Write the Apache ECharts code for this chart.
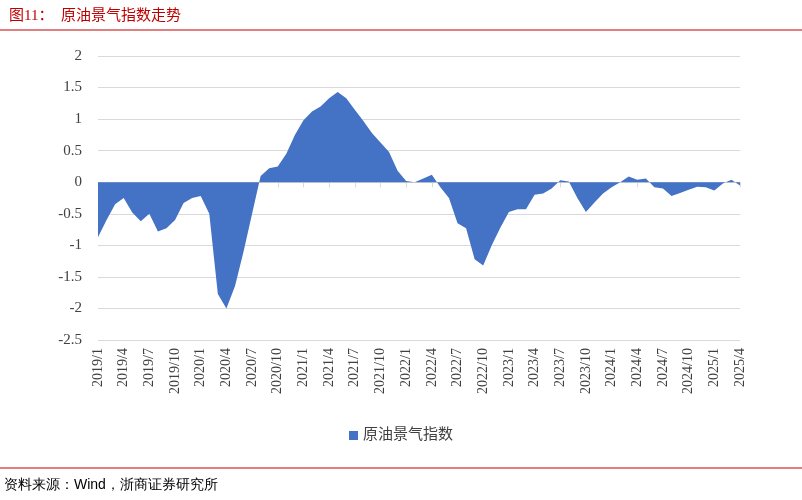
<!DOCTYPE html>
<html><head><meta charset="utf-8">
<script src="https://cdn.jsdelivr.net/npm/echarts@6/dist/echarts.min.js"></script>
<style>body{margin:0;background:#fff}#c{width:802px;height:500px}</style>
</head><body><div id="c"></div>
<script>
// 原油景气指数 2019/1 - 2025/4 月度
var years = [2019, 2020, 2021, 2022, 2023, 2024, 2025];
var values = [
	-0.87, -0.6, -0.35, -0.25, -0.48, -0.62, -0.5, -0.78, -0.73, -0.6, -0.33, -0.25,
	-0.22, -0.5, -1.77, -2.0, -1.65, -1.1, -0.5, 0.1, 0.22, 0.25, 0.45, 0.75,
	0.98, 1.12, 1.2, 1.33, 1.43, 1.33, 1.15, 0.97, 0.78, 0.63, 0.48, 0.18,
	0.02, 0.0, 0.06, 0.12, -0.08, -0.25, -0.65, -0.73, -1.22, -1.32, -1.0, -0.72,
	-0.47, -0.43, -0.43, -0.2, -0.18, -0.1, 0.03, 0.01, -0.25, -0.47, -0.32, -0.18,
	-0.08, 0.0, 0.09, 0.04, 0.06, -0.08, -0.1, -0.22, -0.17, -0.12, -0.07, -0.08,
	-0.13, -0.02, 0.04, -0.05
];
var categories = [];
for (var i = 0; i < values.length; i ++) {
	categories.push(years[Math.floor(i / 12)] + '/' + (i % 12 + 1));
}
var serif = '"Liberation Serif", "Noto Sans CJK SC", serif';
var chart = echarts.init(document.getElementById('c'));
chart.setOption({
	animation: false,
	title: {
		text: '图11：  原油景气指数走势',
		left: 4, top: 4,
		textStyle: {color: '#c00000', fontSize: 15, fontWeight: 'normal', fontFamily: serif}
	},
	graphic: [
		{type: 'line', shape: {x1: 0, y1: 30, x2: 802, y2: 30}, style: {stroke: '#c00000', lineWidth: 1}},
		{type: 'line', shape: {x1: 0, y1: 468, x2: 802, y2: 468}, style: {stroke: '#c00000', lineWidth: 1}},
		{type: 'text', left: 4, top: 478, style: {text: '资料来源：Wind，浙商证券研究所', fontSize: 14, fill: '#000', font: '14px ' + serif}}
	],
	legend: {
		bottom: 52, left: 'center', itemWidth: 9, itemHeight: 9, icon: 'rect',
		textStyle: {fontSize: 15, color: '#404040', fontFamily: serif},
		data: ['原油景气指数']
	},
	grid: {left: 98, right: 62, top: 56, bottom: 160},
	xAxis: {
		type: 'category', boundaryGap: false, data: categories,
		axisLine: {onZero: true, lineStyle: {color: '#d9d9d9'}},
		axisTick: {show: true, interval: 2, lineStyle: {color: '#d9d9d9'}},
		axisLabel: {interval: 2, rotate: 90, color: '#404040', fontSize: 14, fontFamily: serif},
		position: 'bottom'
	},
	yAxis: {
		type: 'value', min: -2.5, max: 2, interval: 0.5,
		axisLine: {show: false}, axisTick: {show: false},
		axisLabel: {color: '#404040', fontSize: 15, fontFamily: serif, margin: 16},
		splitLine: {lineStyle: {color: '#d9d9d9'}}
	},
	series: [{
		name: '原油景气指数', type: 'line', data: values,
		symbol: 'none', lineStyle: {width: 0}, itemStyle: {color: '#4472c4'},
		areaStyle: {color: '#4472c4', opacity: 1}
	}]
});
</script></body></html>
